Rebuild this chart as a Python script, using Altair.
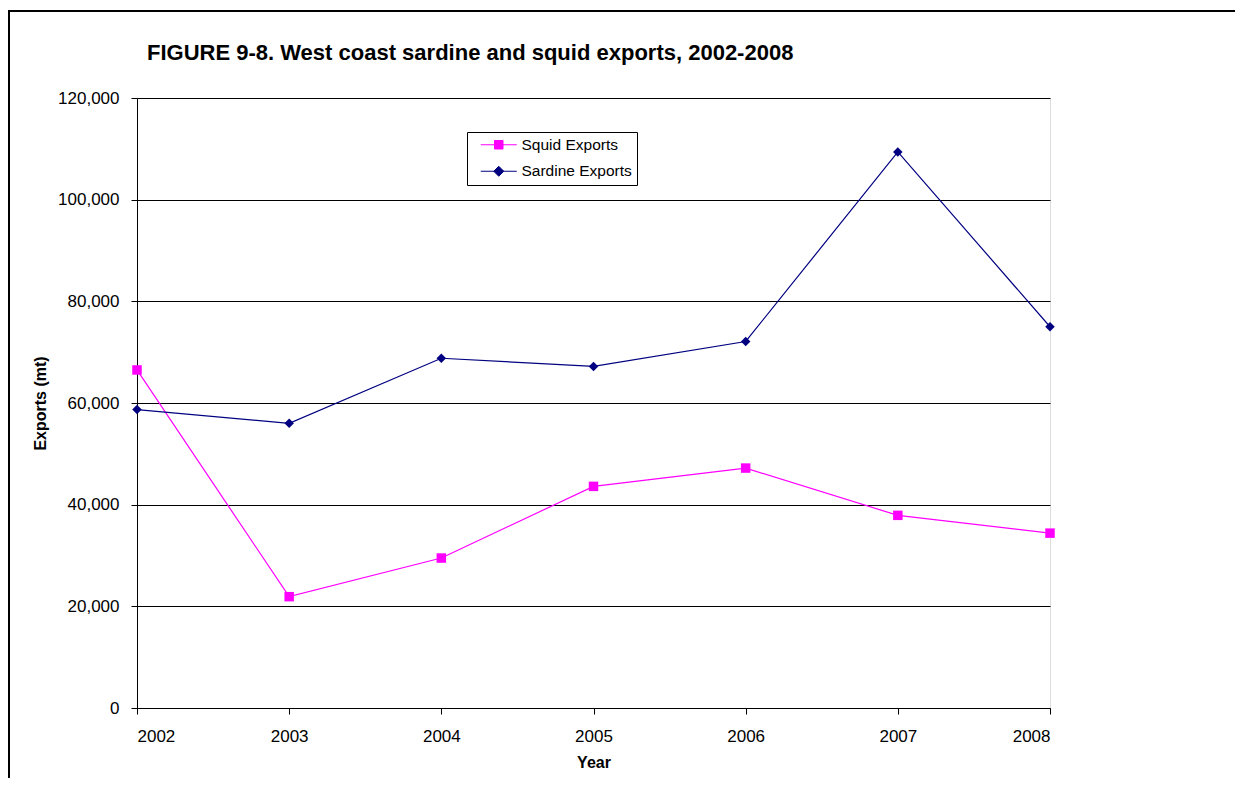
import altair as alt
import pandas as pd

years = [2002, 2003, 2004, 2005, 2006, 2007, 2008]
squid_exports = [66500, 21900, 29500, 43600, 47200, 37900, 34400]
sardine_exports = [58700, 56000, 68800, 67200, 72100, 109400, 75000]
series_names = ["Squid Exports", "Sardine Exports"]
series_colors = ["#FF00FF", "#000080"]
series_shapes = ["square", "diamond"]
legend_shapes = [
    "M-3.6,0H3.6M-0.85,-0.85H0.85V0.85H-0.85Z",
    "M-3.6,0H3.6M0,-1L1,0L0,1L-1,0Z",
]
y_tick_values = [0, 20000, 40000, 60000, 80000, 100000, 120000]
title_text = "FIGURE 9-8. West coast sardine and squid exports, 2002-2008"

df = pd.DataFrame({
    "Year": years + years,
    "Exports": squid_exports + sardine_exports,
    "Series": [series_names[0]] * len(years) + [series_names[1]] * len(years),
})

FONT = "Liberation Sans"


def make_legend():
    return alt.Legend(
        orient="none",
        legendX=330,
        legendY=34,
        title=None,
        strokeColor="black",
        fillColor="white",
        padding=5,
        labelFont=FONT,
        labelFontSize=15.5,
        labelColor="black",
        labelExpr="datum.label + '\u00a0\u00a0\u00a0'",
        symbolSize=100,
        symbolOffset=19,
        labelOffset=15,
        rowPadding=9.5,
        symbolOpacity=1,
        symbolStrokeWidth=1,
    )


x_enc = alt.X(
    "Year:Q",
    scale=alt.Scale(domain=[2002, 2008], nice=False, zero=False),
    axis=alt.Axis(
        values=years,
        format="d",
        title="Year",
        grid=False,
        domainColor="black",
        tickColor="black",
        tickSize=6,
        labelPadding=14,
        labelFont=FONT,
        labelFontSize=17,
        labelColor="black",
        titleFont=FONT,
        titleFontSize=16,
        titleFontWeight="bold",
        titleColor="black",
        titlePadding=10,
    ),
)

y_enc = alt.Y(
    "Exports:Q",
    scale=alt.Scale(domain=[0, 120000], nice=False),
    axis=alt.Axis(
        values=y_tick_values,
        format=",d",
        title="Exports (mt)",
        grid=True,
        gridColor="black",
        gridWidth=1,
        domainColor="black",
        tickColor="black",
        tickSize=6,
        labelPadding=12,
        labelFont=FONT,
        labelFontSize=17,
        labelColor="black",
        titleFont=FONT,
        titleFontSize=16,
        titleFontWeight="bold",
        titleColor="black",
        titlePadding=9,
    ),
)

color_scale = alt.Scale(domain=series_names, range=series_colors)

base = alt.Chart(df)

lines = base.mark_line(strokeWidth=1.2).encode(
    x=x_enc,
    y=y_enc,
    color=alt.Color("Series:N", scale=color_scale, legend=None),
    detail="Series:N",
)

points = base.mark_point(filled=True, opacity=1, strokeWidth=0).encode(
    x="Year:Q",
    y="Exports:Q",
    color=alt.Color("Series:N", scale=color_scale, legend=None),
    shape=alt.Shape("Series:N", scale=alt.Scale(domain=series_names, range=series_shapes), legend=None),
    size=alt.value(90),
)

legend_layer = base.mark_point(filled=True, opacity=0).encode(
    x="Year:Q",
    y="Exports:Q",
    fill=alt.Fill("Series:N", scale=alt.Scale(domain=series_names, range=series_colors), legend=make_legend()),
    stroke=alt.Stroke("Series:N", scale=alt.Scale(domain=series_names, range=series_colors), legend=make_legend()),
    shape=alt.Shape("Series:N", scale=alt.Scale(domain=series_names, range=legend_shapes), legend=make_legend()),
)

frame = alt.Chart(alt.Data(values=[{"k": 1}])).mark_rect(
    fill=None, stroke="black", strokeWidth=2, clip=False
).encode(
    x=alt.value(-128),
    x2=alt.value(1400),
    y=alt.value(-87),
    y2=alt.value(900),
)

chart = alt.layer(frame, lines, points, legend_layer).resolve_scale(
    shape="independent", fill="independent", stroke="independent"
).properties(
    width=913,
    height=610,
    autosize=alt.AutoSizeParams(type="none"),
    padding={"left": 129, "top": 90, "right": 185, "bottom": 70},
    title=alt.Title(
        title_text,
        anchor="start",
        frame="group",
        dx=10,
        dy=55,
        offset=0,
        font=FONT,
        fontSize=22,
        fontWeight="bold",
        color="black",
    ),
).configure_view(stroke=None).configure(background="white")

chart.save("out.html", embed_options={"renderer": "svg", "actions": False})
